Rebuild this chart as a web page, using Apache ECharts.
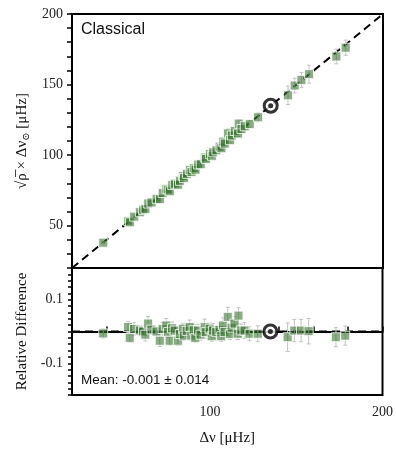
<!DOCTYPE html>
<html>
<head>
<meta charset="utf-8">
<script src="https://cdn.jsdelivr.net/npm/echarts@6/dist/echarts.min.js"></script>
<style>
  html, body { margin: 0; padding: 0; background: #fff; }
  #chart { width: 396px; height: 457px; }
</style>
</head>
<body>
<div id="chart"></div>
<script>
// measured large separation of each star [uHz]
var dnu = [38.1, 52.5, 53.5, 56.0, 59.3, 61.2, 62.5, 64.1, 66.0, 69.0,
  70.9, 72.5, 74.7, 75.7, 76.6, 78.0, 79.5, 81.4, 82.5, 84.3,
  84.8, 86.5, 88.2, 89.2, 90.5, 91.5, 93.0, 94.5, 96.9, 97.5,
  99.8, 101.0, 101.7, 103.6, 105.5, 106.5, 107.5, 108.4, 110.3, 111.5,
  112.5, 114.2, 116.1, 116.5, 118.1, 120.0, 122.9, 127.7, 145.0, 148.9,
  152.8, 157.2, 173.0, 178.4];
// sqrt(mean density) x solar dnu [uHz]
var scaledDnu = [37.9, 53.2, 52.4, 56.4, 59.5, 61.2, 61.9, 65.7, 66.4, 69.0,
  68.8, 73.1, 76.1, 75.5, 74.4, 78.8, 79.7, 79.0, 81.8, 85.1,
  83.7, 86.7, 89.4, 88.0, 90.9, 89.7, 93.3, 93.6, 98.3, 97.3,
  100.7, 99.5, 102.0, 103.4, 106.0, 104.9, 109.5, 108.2, 115.4, 110.6,
  113.9, 117.1, 115.3, 122.3, 118.5, 120.4, 122.0, 126.8, 142.4, 149.3,
  153.3, 157.4, 169.9, 176.1];
var scaledErr = [0.6, 0.9, 0.7, 1.1, 0.9, 0.7, 1.3, 1.4, 1.0, 1.0,
  1.3, 1.5, 1.6, 1.2, 1.0, 1.6, 1.4, 1.2, 1.7, 1.4,
  1.2, 1.6, 1.9, 1.4, 1.6, 1.4, 1.9, 1.6, 2.4, 2.0,
  1.8, 1.6, 2.2, 2.1, 2.0, 1.7, 2.6, 2.0, 3.3, 1.9,
  2.3, 2.5, 2.1, 2.9, 2.4, 3.0, 2.7, 3.2, 6.5, 5.2,
  5.3, 6.3, 5.2, 5.4];
// relative difference and its error
var relDiff = [-0.006, 0.014, -0.020, 0.008, 0.003, 0.000, -0.010, 0.025, 0.006, 0.000,
  -0.029, 0.008, 0.019, -0.002, -0.029, 0.010, 0.003, -0.029, -0.008, 0.009,
  -0.013, 0.002, 0.014, -0.013, 0.004, -0.020, 0.003, -0.010, 0.014, -0.002,
  0.009, -0.015, 0.003, -0.002, 0.005, -0.015, 0.019, -0.002, 0.046, -0.008,
  0.012, 0.025, -0.007, 0.050, 0.003, 0.003, -0.007, -0.007, -0.018, 0.003,
  0.003, 0.001, -0.018, -0.013];
var relErr = [0.015, 0.018, 0.014, 0.020, 0.016, 0.012, 0.020, 0.022, 0.015, 0.014,
  0.018, 0.020, 0.022, 0.016, 0.013, 0.020, 0.018, 0.015, 0.020, 0.017,
  0.014, 0.019, 0.022, 0.016, 0.018, 0.015, 0.020, 0.017, 0.025, 0.020,
  0.018, 0.016, 0.022, 0.020, 0.019, 0.016, 0.024, 0.018, 0.030, 0.017,
  0.020, 0.022, 0.018, 0.025, 0.020, 0.025, 0.022, 0.025, 0.045, 0.035,
  0.035, 0.040, 0.030, 0.030];

// reference star (circled)
var refDnu = [135.0];
var refScaled = [135.0];
var refDiff = [0.0];

var lineX = [20, 200];
var lineTop = [20, 200];
var lineBottom = [0, 0];

var topLabels = [50, 100, 150, 200];
var bottomLabels = [0.1, -0.1];
var xLabels = [100, 200];

var serif = '"Liberation Serif", "DejaVu Serif", serif';
var sans = '"Liberation Sans", Arial, sans-serif';

var topPoints = [], topErrs = [], botPoints = [], botErrs = [];
for (var i = 0; i < dnu.length; i++) {
  topPoints.push([dnu[i], scaledDnu[i]]);
  topErrs.push([dnu[i], scaledDnu[i], scaledErr[i]]);
  botPoints.push([dnu[i], relDiff[i]]);
  botErrs.push([dnu[i], relDiff[i], relErr[i]]);
}

function errorBars(params, api) {
  var x = api.value(0), y = api.value(1), e = api.value(2);
  var hi = api.coord([x, y + e]);
  var lo = api.coord([x, y - e]);
  var st = { stroke: '#c2c2c2', lineWidth: 1 };
  return {
    type: 'group',
    children: [
      { type: 'line', shape: { x1: hi[0], y1: hi[1], x2: lo[0], y2: lo[1] }, style: st },
      { type: 'line', shape: { x1: hi[0] - 2, y1: hi[1], x2: hi[0] + 2, y2: hi[1] }, style: st },
      { type: 'line', shape: { x1: lo[0] - 2, y1: lo[1], x2: lo[0] + 2, y2: lo[1] }, style: st }
    ]
  };
}

function pair(xs, ys) {
  return xs.map(function (v, k) { return [v, ys[k]]; });
}

var squareStyle = { color: 'rgba(52,112,44,0.72)', borderColor: '#fff', borderWidth: 1 };
var ringStyle = { color: '#fff', borderColor: '#000', borderWidth: 3 };

var myChart = echarts.init(document.getElementById('chart'));

var option = {
  animation: false,
  grid: [
    { left: 72, right: 13, top: 14, height: 254, show: true, borderColor: '#000', borderWidth: 2, backgroundColor: 'transparent' },
    { left: 72, right: 13, top: 268, height: 127, show: true, borderColor: '#000', borderWidth: 2, backgroundColor: 'transparent' }
  ],
  xAxis: [
    {
      gridIndex: 0, type: 'value', min: 20, max: 200, interval: 20,
      axisLine: { lineStyle: { color: '#000', width: 2 } },
      axisTick: { show: false }, axisLabel: { show: false }, splitLine: { show: false }
    },
    {
      gridIndex: 1, type: 'value', min: 20, max: 200, interval: 20,
      name: 'Δν [μHz]', nameLocation: 'middle', nameGap: 36,
      nameTextStyle: { fontFamily: serif, fontSize: 15, color: '#111' },
      axisLine: { lineStyle: { color: '#000', width: 2 } },
      axisTick: { inside: true, length: 5, lineStyle: { color: '#000', width: 1.5 } },
      axisLabel: {
        margin: 10, fontFamily: serif, fontSize: 14, color: '#222',
        formatter: function (v) { return xLabels.indexOf(v) >= 0 ? String(v) : ''; }
      },
      splitLine: { show: false }
    }
  ],
  yAxis: [
    {
      gridIndex: 0, type: 'value', min: 20, max: 200, interval: 10,
      name: '√ρ̅ × Δν{sub|⊙} [μHz]', nameLocation: 'middle', nameGap: 41,
      nameTextStyle: {
        fontFamily: serif, fontSize: 15, color: '#111',
        rich: { sub: { fontFamily: serif, fontSize: 10, color: '#111', verticalAlign: 'bottom', padding: [8, 0, 0, 0] } }
      },
      axisLine: { lineStyle: { color: '#000', width: 2 } },
      axisTick: { length: 5, lineStyle: { color: '#000', width: 1.5 } },
      axisLabel: {
        margin: 9, fontFamily: serif, fontSize: 14, color: '#222',
        formatter: function (v) { return topLabels.indexOf(v) >= 0 ? String(v) : ''; }
      },
      splitLine: { show: false }
    },
    {
      gridIndex: 1, type: 'value', min: -0.2, max: 0.2, interval: 0.02,
      name: 'Relative Difference', nameLocation: 'middle', nameGap: 42,
      nameTextStyle: { fontFamily: serif, fontSize: 15, color: '#111' },
      axisLine: { lineStyle: { color: '#000', width: 2 } },
      axisTick: { length: 4, lineStyle: { color: '#000', width: 1.5 } },
      axisLabel: {
        margin: 9, fontFamily: serif, fontSize: 14, color: '#222',
        formatter: function (v) {
          for (var k = 0; k < bottomLabels.length; k++) {
            if (Math.abs(v - bottomLabels[k]) < 1e-9) return String(bottomLabels[k]);
          }
          return '';
        }
      },
      splitLine: { show: false }
    }
  ],
  series: [
    {
      type: 'line', xAxisIndex: 0, yAxisIndex: 0, data: pair(lineX, lineTop),
      symbol: 'none', silent: true, z: 1,
      lineStyle: { color: '#000', width: 2, type: [8, 5] }
    },
    {
      type: 'line', xAxisIndex: 1, yAxisIndex: 1, data: pair(lineX, lineBottom),
      symbol: 'none', silent: true, z: 1,
      lineStyle: { color: '#000', width: 2, type: [8, 5] }
    },
    {
      type: 'custom', xAxisIndex: 0, yAxisIndex: 0, data: topErrs,
      renderItem: errorBars, encode: { x: 0, y: 1 }, z: 2
    },
    {
      type: 'custom', xAxisIndex: 1, yAxisIndex: 1, data: botErrs,
      renderItem: errorBars, encode: { x: 0, y: 1 }, z: 2
    },
    {
      type: 'scatter', xAxisIndex: 0, yAxisIndex: 0, data: topPoints,
      symbol: 'rect', symbolSize: 9, itemStyle: squareStyle, z: 3
    },
    {
      type: 'scatter', xAxisIndex: 1, yAxisIndex: 1, data: botPoints,
      symbol: 'rect', symbolSize: 9, itemStyle: squareStyle, z: 3
    },
    {
      type: 'scatter', xAxisIndex: 0, yAxisIndex: 0, data: pair(refDnu, refScaled),
      symbol: 'circle', symbolSize: 13, itemStyle: ringStyle, z: 5
    },
    {
      type: 'scatter', xAxisIndex: 0, yAxisIndex: 0, data: pair(refDnu, refScaled),
      symbol: 'circle', symbolSize: 5, itemStyle: { color: '#000' }, z: 6
    },
    {
      type: 'scatter', xAxisIndex: 1, yAxisIndex: 1, data: pair(refDnu, refDiff),
      symbol: 'circle', symbolSize: 13, itemStyle: ringStyle, z: 5
    },
    {
      type: 'scatter', xAxisIndex: 1, yAxisIndex: 1, data: pair(refDnu, refDiff),
      symbol: 'circle', symbolSize: 5, itemStyle: { color: '#000' }, z: 6
    }
  ],
  graphic: [
    {
      type: 'text', left: 81, top: 22,
      style: { text: 'Classical', fontFamily: sans, fontSize: 16, fill: '#111' }
    },
    {
      type: 'text', left: 81, top: 373,
      style: { text: 'Mean: -0.001 ± 0.014', fontFamily: sans, fontSize: 13.5, fill: '#111' }
    }
  ]
};

myChart.setOption(option);
</script>
</body>
</html>
